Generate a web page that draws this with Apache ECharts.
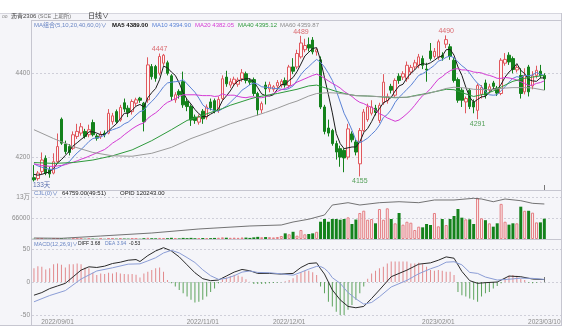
<!DOCTYPE html>
<html>
<head>
<meta charset="utf-8">
<script src="https://cdn.jsdelivr.net/npm/echarts@6/dist/echarts.min.js"></script>
<style>
  html, body { margin: 0; padding: 0; background: #ffffff; }
  #chart { width: 571px; height: 335px; }
</style>
</head>
<body>
<div id="chart"></div>
<script>
// Trading sessions shown on the daily chart, month by month
const sessionDays = [
  ['2022/08', [24, 25, 26, 29, 30, 31]],
  ['2022/09', [1, 2, 5, 6, 7, 8, 9, 13, 14, 15, 16, 19, 20, 21, 22, 23, 26, 27, 28, 29, 30]],
  ['2022/10', [10, 11, 12, 13, 14, 17, 18, 19, 20, 21, 24, 25, 26, 27, 28, 31]],
  ['2022/11', [1, 2, 3, 4, 7, 8, 9, 10, 11, 14, 15, 16, 17, 18, 21, 22, 23, 24, 25, 28, 29, 30]],
  ['2022/12', [1, 2, 5, 6, 7, 8, 9, 12, 13, 14, 15, 16, 19, 20, 21, 22, 23, 26, 27, 28, 29, 30]],
  ['2023/01', [3, 4, 5, 6, 9, 10, 11, 12, 13, 16, 17, 18, 19, 20, 30, 31]],
  ['2023/02', [1, 2, 3, 6, 7, 8, 9, 10, 13, 14, 15, 16, 17, 20, 21, 22, 23, 24, 27, 28]],
  ['2023/03', [1, 2, 3, 6, 7, 8, 9, 10]]
];
const dates = sessionDays.flatMap(([m, days]) => days.map(d => m + '/' + String(d).padStart(2, '0')));
const dateTicks = ['2022/09/01', '2022/11/01', '2022/12/01', '2023/02/01', '2023/03/10'];

const opens = [
  4152,4150,4167,4198,4171,4163,4190,4291,4232,4226,
  4222,4250,4258,4262,4254,4283,4251,4249,4258,4258,
  4285,4309,4289,4330,4317,4309,4329,4341,4329,4337,
  4416,4416,4400,4424,4425,4394,4337,4357,4380,4333,
  4321,4296,4284,4310,4296,4332,4335,4312,4340,4391,
  4372,4376,4374,4387,4399,4383,4385,4352,4313,4372,
  4363,4362,4370,4372,4383,4371,4415,4415,4439,4456,
  4468,4479,4451,4432,4320,4270,4264,4233,4221,4217,
  4201,4256,4237,4185,4264,4290,4305,4317,4288,4330,
  4335,4369,4348,4393,4391,4387,4403,4415,4419,4435,
  4410,4453,4440,4439,4443,4469,4463,4431,4385,4360,
  4332,4360,4332,4312,4350,4377,4360,4377,4365,4352,
  4424,4443,4435,4408,4395,4356,4415,4370,4395,4405,
  4395];
const closes = [
  4147,4163,4194,4163,4161,4190,4226,4234,4214,4212,
  4254,4262,4273,4250,4266,4254,4246,4255,4254,4305,
  4299,4285,4319,4315,4307,4333,4337,4336,4285,4420,
  4392,4388,4440,4443,4400,4345,4349,4349,4325,4321,
  4289,4288,4296,4292,4320,4318,4312,4338,4387,4375,
  4380,4386,4384,4401,4383,4379,4352,4313,4328,4363,
  4373,4368,4378,4381,4372,4415,4405,4447,4472,4466,
  4460,4451,4456,4320,4262,4258,4233,4213,4201,4199,
  4268,4242,4213,4264,4308,4320,4320,4307,4324,4379,
  4345,4360,4383,4383,4399,4419,4414,4425,4439,4419,
  4408,4435,4452,4475,4437,4480,4440,4383,4336,4336,
  4340,4321,4320,4371,4366,4348,4368,4369,4353,4431,
  4433,4427,4409,4414,4352,4395,4356,4394,4407,4395,
  4387];
const lows = [
  4143,4145,4160,4158,4152,4160,4186,4230,4208,4205,
  4218,4244,4252,4245,4248,4250,4240,4244,4248,4255,
  4278,4280,4285,4308,4296,4302,4322,4330,4262,4330,
  4385,4380,4395,4418,4395,4335,4330,4340,4318,4310,
  4275,4280,4278,4280,4290,4312,4305,4306,4335,4368,
  4365,4370,4368,4380,4376,4372,4346,4300,4305,4326,
  4355,4356,4364,4366,4366,4366,4398,4410,4435,4450,
  4452,4445,4442,4315,4255,4250,4228,4195,4178,4165,
  4195,4236,4205,4155,4260,4285,4300,4300,4282,4325,
  4328,4352,4342,4375,4384,4380,4396,4408,4412,4410,
  4380,4430,4435,4432,4430,4460,4432,4378,4330,4320,
  4305,4315,4305,4291,4340,4340,4352,4362,4346,4348,
  4418,4420,4400,4402,4340,4350,4345,4362,4388,4388,
  4360];
const highs = [
  4182,4168,4212,4205,4178,4210,4257,4295,4240,4232,
  4262,4280,4282,4268,4278,4290,4256,4262,4264,4315,
  4306,4314,4325,4340,4324,4338,4342,4344,4332,4438,
  4422,4420,4447,4446,4430,4398,4355,4362,4404,4340,
  4326,4302,4302,4315,4326,4340,4340,4345,4395,4406,
  4388,4392,4390,4410,4404,4388,4390,4356,4333,4380,
  4380,4372,4384,4386,4390,4420,4436,4456,4489,4482,
  4485,4486,4460,4440,4325,4290,4268,4240,4228,4222,
  4280,4262,4242,4270,4315,4328,4336,4325,4330,4398,
  4352,4375,4388,4400,4405,4428,4420,4432,4446,4442,
  4425,4472,4460,4480,4450,4490,4470,4436,4390,4366,
  4345,4365,4338,4376,4372,4385,4375,4382,4370,4436,
  4448,4450,4440,4420,4412,4412,4420,4405,4418,4420,
  4400];

// Moving averages of the close
const ma5 = [
  4160,4158,4160,4163,4166,4174,4187,4195,4205,4215,
  4228,4235,4243,4250,4261,4261,4258,4254,4255,4263,
  4272,4280,4292,4305,4305,4312,4322,4326,4320,4342,
  4354,4364,4385,4417,4413,4403,4395,4377,4354,4338,
  4327,4314,4304,4297,4297,4303,4308,4316,4335,4346,
  4358,4373,4382,4385,4387,4387,4380,4366,4351,4347,
  4346,4349,4362,4373,4374,4383,4390,4404,4422,4441,
  4450,4459,4461,4431,4390,4349,4306,4257,4233,4221,
  4223,4225,4225,4237,4259,4269,4285,4304,4316,4330,
  4335,4343,4358,4370,4374,4389,4400,4408,4419,4423,
  4421,4425,4431,4438,4441,4456,4457,4443,4415,4395,
  4367,4343,4331,4338,4344,4345,4355,4364,4361,4374,
  4391,4403,4411,4423,4407,4399,4385,4382,4381,4389,
  4389.00];
const ma10 = [
  4185,4180,4177,4174,4172,4172,4175,4180,4185,4190,
  4201,4211,4219,4228,4238,4245,4247,4249,4253,4262,
  4266,4269,4273,4280,4284,4292,4301,4309,4312,4324,
  4333,4343,4355,4368,4377,4379,4380,4381,4385,4375,
  4365,4355,4341,4325,4317,4315,4311,4310,4316,4322,
  4331,4340,4349,4360,4366,4373,4377,4374,4368,4367,
  4366,4364,4364,4362,4361,4364,4370,4383,4397,4408,
  4416,4425,4433,4426,4415,4400,4383,4359,4332,4305,
  4286,4265,4241,4235,4240,4246,4255,4264,4277,4295,
  4302,4314,4331,4343,4352,4362,4371,4383,4395,4399,
  4405,4412,4419,4429,4432,4438,4441,4437,4427,4418,
  4411,4400,4387,4376,4369,4356,4349,4348,4349,4359,
  4368,4379,4388,4392,4390,4395,4394,4396,4402,4398,
  4394.90];
const ma20 = [
  4185,4183,4181,4180,4179,4179,4180,4181,4183,4186,
  4189,4192,4196,4199,4203,4207,4211,4215,4219,4226,
  4234,4240,4246,4254,4261,4268,4274,4279,4282,4293,
  4300,4306,4314,4324,4331,4335,4340,4345,4349,4349,
  4349,4349,4348,4347,4347,4347,4345,4346,4351,4348,
  4348,4348,4345,4343,4342,4344,4344,4342,4342,4344,
  4348,4352,4357,4361,4364,4368,4373,4379,4383,4387,
  4391,4395,4398,4394,4388,4382,4376,4371,4365,4357,
  4351,4345,4337,4331,4328,4323,4319,4312,4304,4300,
  4294,4290,4286,4289,4296,4304,4313,4324,4336,4347,
  4354,4363,4375,4386,4392,4400,4406,4410,4411,4408,
  4408,4406,4403,4402,4401,4397,4395,4392,4388,4388,
  4390,4389,4387,4384,4380,4376,4371,4372,4376,4378,
  4382.05];
// [session index, value]
const ma40 = [
  [0,4188],[5,4186],[10,4188],[15,4194],[20,4204],[25,4218],[30,4240],[35,4266],[39,4288],
  [42,4297],[45,4307],[48,4316],[50,4324],[53,4333],[55,4339],[57,4344],[60,4349],[62,4352],
  [65,4358],[67,4362],[70,4370],[72,4372],[75,4363],[77,4357],[80,4350],[82,4347],[85,4346],
  [87,4345],[90,4343],[92,4342],[95,4343],[97,4347],[100,4352],[102,4356],[105,4362],[107,4361],
  [110,4351],[112,4345],[115,4351],[117,4358],[120,4372],[122,4381],[125,4388],[127,4391],[130,4395.12]];
const ma60 = [
  [0,4266],[5,4245],[10,4226],[15,4212],[20,4204],[25,4203],[30,4210],[35,4224],[40,4245],
  [45,4262],[50,4280],[55,4295],[59,4307],[62,4317],[65,4328],[67,4334],[70,4346],[72,4352],
  [75,4354],[77,4353],[80,4350],[82,4347],[85,4346],[87,4345],[90,4344],[92,4343],[95,4343],
  [97,4346],[100,4351],[102,4356],[105,4364],[107,4367],[110,4365],[112,4362],[115,4361],
  [117,4362],[120,4365],[122,4366],[125,4366],[127,4365],[130,4359.87]];

const volumes = [
  800,600,1200,900,700,1100,1500,1800,1000,900,
  1300,1100,1200,900,1000,1400,800,900,700,1600,
  1400,1200,1800,1500,1300,1700,1200,900,2600,3800,
  2500,2200,3400,3000,2600,3800,2400,2000,3500,2800,
  3600,2500,2300,3200,3000,2800,3400,3900,5200,4100,
  3800,4200,3600,4800,4500,3500,5200,6800,5500,6200,
  5800,5000,6300,9600,18000,15000,23000,10600,28700,15000,
  16000,18000,23000,55000,63800,55000,63800,63800,61500,63800,
  69000,47800,62000,82900,90300,61500,63800,50000,95600,61500,
  97800,63800,50000,82900,45700,55000,52000,28700,39300,37200,
  47800,44600,82900,40400,63800,44600,63800,73300,95600,68000,
  62700,62700,47800,130000,66000,60000,50000,39300,50000,112000,
  55000,45700,50000,50000,103000,90000,90000,84000,53000,53000,
  64759];
// open interest, [session index, contracts]
const openInterest = [
  [0,3400],[7,2400],[17,10300],[30,20600],[42,34400],[55,44700],[63,48100],[66,58400],
  [70,68000],[74,82400],[76,116800],[80,124700],[83,116800],[88,124700],[93,128100],
  [98,124700],[102,134000],[107,134000],[112,139800],[114,137400],[117,128100],
  [120,137400],[124,131600],[127,122600],[130,120243]];

const macdHist = [
  20.7,24,23,19,21,27,28,26,22,27,
  27,28,27,22,21,14,10.6,13,12,14,
  13,14.6,13,12,11.6,12,11,7,13,15.7,
  18,20.7,22,15.7,3,-2,-7,-12,-17,-22,
  -27,-31,-30,-27,-22,-15,-10,-2,4,7,
  9,11,10,8,4,0.5,-3,-3,-3,-2.5,
  -2,-1.5,-1,-0.5,1,3,5.5,10.6,14.6,17,
  17,14.6,10.6,-7,-17,-30,-37,-45,-50,-50,
  -42,-35,-27,-17,-7,5,13,17,20.7,23,
  28,31,31,31,31,31,28,28,29,27,
  23,18,17,18,17,15.7,15.7,10.6,-15,-20,
  -22,-25,-27,-30,-22,-17,-15,-10,-6,-2,
  5.5,9.6,10.6,9.6,4.5,3,-1,-2,-1,0.5,
  -0.53];
const macdDiff = [
  [0,-20],[2,-16],[4,-10],[6,-6],[8,-2],[10,8],[12,18],[14,23],[16,22],[18,24],[20,28],
  [22,30],[24,33],[26,34],[27,31],[29,40],[31,47],[33,52],[35,47],[37,38],[39,26],[41,14],
  [43,5],[45,2],[47,3],[49,9],[51,15],[53,19],[55,17],[57,13],[60,13],[63,12],[66,13],
  [68,22],[70,28],[72,29],[73,20],[74,12],[75,0],[76,-12],[78,-27],[80,-37],[82,-39],
  [84,-37],[86,-25],[88,-12],[91,8],[95,18],[98,27],[101,29],[103,33],[105,38],[107,36],
  [109,16],[111,2],[113,-2],[115,-1],[118,0],[121,9],[124,8],[127,4.5],[130,3.68]];
const macdDea = [
  [0,-30],[4,-20.5],[8,-13],[12,4.5],[16,16.7],[20,21.5],[24,27],[27,27.5],[29,32],
  [31,36.7],[33,44],[35,48],[37,44],[39,37],[41,29.5],[43,18.5],[45,9.5],[47,4],[49,5.5],
  [51,9.5],[53,15],[55,16.7],[57,14.5],[60,14],[63,12.3],[66,10.3],[68,14.7],[70,19.5],
  [72,23.7],[73,23.5],[74,20.5],[75,15],[76,6.5],[78,-2],[80,-16],[82,-25.5],[84,-33.5],
  [86,-31],[88,-22.4],[91,-7.5],[95,2.5],[98,12.5],[101,20],[103,24],[105,30],[107,30.7],
  [109,26],[111,14.5],[113,13],[115,7.5],[118,3],[121,4.2],[124,5.8],[127,5.5],[130,3.94]];

// sessions whose extreme price is annotated
const peakIdx = [32, 68, 105];
const troughIdx = [83, 113];

const priceTicks = [4200, 4400];
const volumeTicks = [66000, 132000];
const macdTicks = [-50, 0, 50];

// ---------------------------------------------------------------------------
const FONT = '"Liberation Sans", "Noto Sans CJK SC", "DejaVu Sans", sans-serif';
const UP = '#e0585e', DOWN = '#14821c';
const isUp = i => closes[i] >= opens[i];
const last = a => { const v = a[a.length - 1]; return Array.isArray(v) ? v[1] : v; };
const fmt2 = v => Number(v).toFixed(2);

// empty slots keep the right margin of the panels free
const axisCats = dates.concat([' ', '  ', '   ', '    ']);
const lastIdx = dates.length - 1;

const kData = opens.map((o, i) => [o, closes[i], lows[i], highs[i]]);

const gridBase = { left: 32, right: 9, containLabel: false, outerBoundsMode: 'none' };

function xAxisFor(g) {
  return {
    type: 'category', gridIndex: g, data: axisCats, boundaryGap: true,
    axisLine: { show: false },
    axisTick: {
      show: g !== 1, inside: true, length: 5, alignWithLabel: true,
      interval: (idx) => idx === lastIdx,
      lineStyle: { color: '#777', width: 1 }
    },
    axisLabel: {
      show: g === 2, interval: (idx, val) => dateTicks.includes(val),
      fontSize: 6.5, color: '#8a8a8a', margin: 2, fontFamily: FONT
    },
    splitLine: { show: false }
  };
}
const dashed = { show: true, lineStyle: { color: '#cfcfd9', type: [2, 2], width: 1 } };
function yAxisFor(g, min, max, ticks, formatter) {
  return {
    type: 'value', gridIndex: g, min, max, scale: true,
    axisLine: { show: false },
    axisTick: { show: false, customValues: ticks },
    axisLabel: { customValues: ticks, fontSize: 6.5, color: '#8a8a8a', margin: 2,
      fontFamily: FONT, formatter: formatter || (v => String(v)) },
    splitLine: dashed
  };
}

function maLine(name, data, color) {
  return { name, type: 'line', xAxisIndex: 0, yAxisIndex: 0, data, symbol: 'none',
    silent: true, z: 4, lineStyle: { color, width: 1 } };
}

function label(x, y, text, fill, size, weight) {
  return { type: 'text', x, y, z: 100, silent: true,
    style: { text, fill, font: (weight || 'normal') + ' ' + size + 'px ' + FONT, verticalAlign: 'middle' } };
}
function hline(x1, x2, y, color) {
  return { type: 'line', z: 50, silent: true, shape: { x1, y1: y, x2, y2: y },
    style: { stroke: color || '#c6c6d0', lineWidth: 1 } };
}
function vline(x, y1, y2, color) {
  return { type: 'line', z: 50, silent: true, shape: { x1: x, y1, x2: x, y2 },
    style: { stroke: color || '#c6c6d0', lineWidth: 1 } };
}

const option = {
  animation: false,
  backgroundColor: '#ffffff',
  textStyle: { fontFamily: FONT },
  grid: [
    Object.assign({ top: 20, height: 170 }, gridBase),
    Object.assign({ top: 190, height: 49 }, gridBase),
    Object.assign({ top: 240, height: 77 }, gridBase)
  ],
  xAxis: [xAxisFor(0), xAxisFor(1), xAxisFor(2)],
  yAxis: [
    yAxisFor(0, 4122.8, 4526.6, priceTicks),
    yAxisFor(1, 0, 156200, volumeTicks, v => v >= 100000 ? Math.round(v / 10000) + '万' : String(v)),
    { type: 'value', gridIndex: 1, min: 0, max: 168340, show: false, splitLine: { show: false } },
    yAxisFor(2, -53, 63.6, macdTicks)
  ],
  series: [
    {
      name: 'K', type: 'candlestick', xAxisIndex: 0, yAxisIndex: 0, data: kData,
      barWidth: 3, silent: true, z: 3,
      itemStyle: { color: '#fdf6f6', color0: DOWN, borderColor: UP, borderColor0: DOWN, borderWidth: 1 }
    },
    maLine('MA5', ma5, '#1c1c1c'),
    maLine('MA10', ma10, '#5a82d6'),
    maLine('MA20', ma20, '#d43ad4'),
    maLine('MA40', ma40, '#2e9a3c'),
    maLine('MA60', ma60, '#9a9a9a'),
    {
      name: 'extremes', type: 'scatter', xAxisIndex: 0, yAxisIndex: 0, symbolSize: 1, silent: true, z: 6,
      itemStyle: { color: 'rgba(0,0,0,0)' },
      data: peakIdx.map(i => ({ value: [i, highs[i]],
          label: { show: true, position: 'top', distance: 0, color: '#d4464c', fontSize: 7, fontFamily: FONT, formatter: String(highs[i]) } }))
        .concat(troughIdx.map(i => ({ value: [i, lows[i]],
          label: { show: true, position: 'bottom', distance: 1, color: '#2a8a30', fontSize: 7, fontFamily: FONT, formatter: String(lows[i]) } })))
    },
    {
      name: 'CJL', type: 'bar', xAxisIndex: 1, yAxisIndex: 1, barWidth: 3, silent: true,
      data: volumes.map((v, i) => ({ value: v, itemStyle: isUp(i)
        ? { color: '#fbf1f1', borderColor: '#e47d82', borderWidth: 1 }
        : { color: DOWN } }))
    },
    {
      name: 'OPID', type: 'line', xAxisIndex: 1, yAxisIndex: 2, data: openInterest, symbol: 'none',
      silent: true, z: 4, lineStyle: { color: '#505050', width: 0.8 }
    },
    {
      name: 'MACD', type: 'bar', xAxisIndex: 2, yAxisIndex: 3, barWidth: 1, silent: true,
      data: macdHist.map(v => ({ value: v, itemStyle: { color: v >= 0 ? '#e28a8d' : '#5ca35c' } }))
    },
    {
      name: 'DIFF', type: 'line', xAxisIndex: 2, yAxisIndex: 3, data: macdDiff, symbol: 'none',
      silent: true, z: 4, lineStyle: { color: '#2a2a2a', width: 1 }
    },
    {
      name: 'DEA', type: 'line', xAxisIndex: 2, yAxisIndex: 3, data: macdDea, symbol: 'none',
      silent: true, z: 4, lineStyle: { color: '#8b9dd6', width: 1 }
    }
  ],
  graphic: [
    { type: 'rect', z: -100, silent: true, shape: { x: 0, y: 13, width: 562, height: 313 },
      style: { fill: '#f5f5f9' } },
    hline(0, 562, 13.5, '#d6d6de'),
    hline(32, 562, 20.5),
    hline(32, 562, 190.5),
    hline(32, 562, 239.5),
    hline(0, 562, 325.5),
    vline(31.5, 20, 326),
    vline(561.5, 13, 326),

    label(2, 16.5, 'oo', '#8a8a8a', 5),
    label(11, 16.5, '沥青2306', '#444', 6),
    label(38, 16.5, '(SCE 上期所)', '#777', 5.5),
    label(88, 16.5, '日线∨', '#333', 7),

    label(34, 25, 'MA组合(5,10,20,40,60,0)∨', '#6a86c4', 6),
    label(112, 25, 'MA5 ' + fmt2(last(ma5)), '#111', 6, 'bold'),
    label(152, 25, 'MA10 ' + fmt2(last(ma10)), '#5a82d6', 6),
    label(195, 25, 'MA20 ' + fmt2(last(ma20)), '#d43ad4', 6),
    label(238, 25, 'MA40 ' + fmt2(last(ma40)), '#2e9a3c', 6),
    label(280, 25, 'MA60 ' + fmt2(last(ma60)), '#8c8c8c', 6),
    label(33, 185, dates.length + 2 + '天', '#5a70ae', 6.5),

    label(34, 193.5, 'CJL(0)∨', '#6a86c4', 6),
    label(62, 193.5, fmt2(last(volumes)) + '(49:51)', '#222', 6),
    label(120, 193.5, 'OPID ' + fmt2(last(openInterest)), '#222', 6),

    label(34, 244, 'MACD(12,26,9)∨', '#6a86c4', 5.5),
    label(78, 244, 'DIFF ' + fmt2(last(macdDiff)), '#222', 5),
    label(105, 244, 'DEA ' + fmt2(last(macdDea)), '#6a86c4', 5),
    label(129, 244, fmt2(last(macdHist)), '#222', 5)
  ]
};

const chart = echarts.init(document.getElementById('chart'), null, { renderer: 'canvas' });
chart.setOption(option);
</script>
</body>
</html>
